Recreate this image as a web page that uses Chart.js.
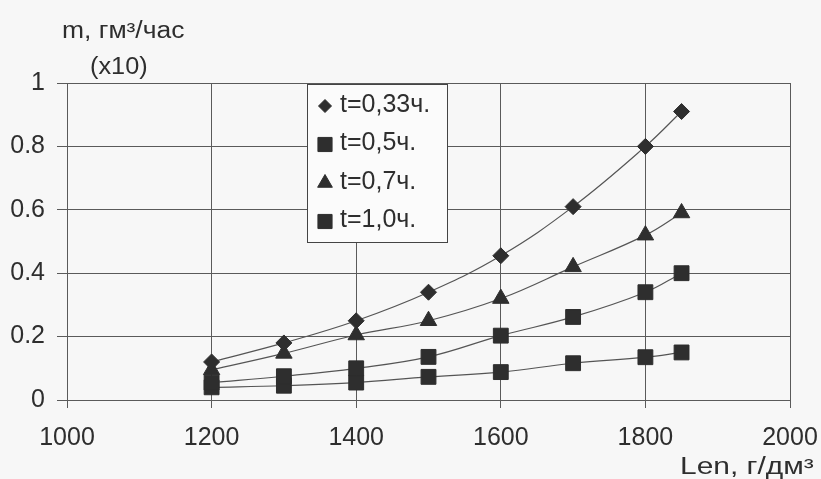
<!DOCTYPE html>
<html>
<head>
<meta charset="utf-8">
<script src="https://cdn.jsdelivr.net/npm/chart.js@4"></script>
<style>
  html, body { margin: 0; padding: 0; background: #f7f7f7; }
  #wrap { width: 821px; height: 479px; position: relative; }
</style>
</head>
<body>
<div id="wrap"><canvas id="chart" width="821" height="479"></canvas></div>
<script>
const lenValues = [1200, 1300, 1400, 1500, 1600, 1700, 1800, 1850];
const seriesT033 = [0.12, 0.18, 0.25, 0.34, 0.455, 0.61, 0.80, 0.91];
const seriesT05 = [0.055, 0.075, 0.10, 0.136, 0.203, 0.262, 0.34, 0.40];
const seriesT07 = [0.095, 0.147, 0.205, 0.25, 0.32, 0.42, 0.52, 0.59];
const seriesT10 = [0.04, 0.045, 0.055, 0.073, 0.088, 0.116, 0.135, 0.15];
const seriesLabels = ['t=0,33ч.', 't=0,5ч.', 't=0,7ч.', 't=1,0ч.'];
const yTitle = 'm, гм³/час';
const yTitle2 = '(x10)';
const xTitle = 'Len, г/дм³';

const ink = '#2e2e2e';
const gridColor = '#5a5a5a';
const fontFamily = '"Liberation Sans", Arial, sans-serif';

function makeSeries(values, label, style, radius) {
  return {
    label,
    data: values.map((v, i) => ({ x: lenValues[i], y: v })),
    showLine: true,
    tension: 0.4,
    borderColor: '#555',
    borderWidth: 1.2,
    pointStyle: style,
    pointRadius: radius,
    pointHoverRadius: radius,
    pointBackgroundColor: ink,
    pointBorderColor: ink,
    pointBorderWidth: 1
  };
}

const datasets = [
  makeSeries(seriesT033, seriesLabels[0], 'rectRot', 8),
  makeSeries(seriesT05, seriesLabels[1], 'rect', 10.5),
  makeSeries(seriesT07, seriesLabels[2], 'triangle', 9.5),
  makeSeries(seriesT10, seriesLabels[3], 'rect', 10.5)
];

const legendRadius = { rectRot: 6.5, triangle: 8.5, rect: 10 };

const boxLegend = {
  id: 'boxLegend',
  afterDraw(chart) {
    const ctx = chart.ctx;
    const left = 307, top = 84, w = 140, h = 158;
    ctx.save();
    ctx.fillStyle = '#fbfbfb';
    ctx.fillRect(left, top, w, h);
    ctx.strokeStyle = '#444';
    ctx.lineWidth = 1;
    ctx.strokeRect(left + 0.5, top + 0.5, w, h);
    ctx.font = '25px ' + fontFamily;
    ctx.textBaseline = 'middle';
    chart.data.datasets.forEach((ds, i) => {
      const cy = top + 21 + i * 38.5;
      ctx.fillStyle = ink;
      ctx.strokeStyle = ink;
      Chart.helpers.drawPoint(ctx, {
        pointStyle: ds.pointStyle,
        radius: legendRadius[ds.pointStyle],
        borderWidth: 1
      }, 325, cy + 1);
      ctx.fillStyle = ink;
      ctx.fillText(ds.label, 340, cy);
    });
    ctx.restore();
  }
};

function stretchedText(ctx, text, x, y, sx) {
  ctx.save();
  ctx.translate(x, y);
  ctx.scale(sx, 1);
  ctx.fillText(text, 0, 0);
  ctx.restore();
}

const axisTitles = {
  id: 'axisTitles',
  afterDraw(chart) {
    const ctx = chart.ctx;
    ctx.save();
    ctx.fillStyle = ink;
    ctx.font = '23px ' + fontFamily;
    ctx.textBaseline = 'alphabetic';
    ctx.textAlign = 'left';
    stretchedText(ctx, yTitle, 62, 38, 1.15);
    stretchedText(ctx, yTitle2, 90, 74, 1.1);
    stretchedText(ctx, xTitle, 680, 474, 1.3);
    ctx.restore();
  }
};

new Chart(document.getElementById('chart'), {
  type: 'scatter',
  data: { datasets },
  options: {
    responsive: false,
    animation: false,
    layout: { padding: { top: 83, right: 31, left: 0, bottom: 0 } },
    plugins: {
      legend: { display: false },
      tooltip: { enabled: false }
    },
    scales: {
      x: {
        type: 'linear',
        min: 1000,
        max: 2000,
        ticks: {
          stepSize: 200,
          color: ink,
          padding: 15,
          font: { size: 25, family: fontFamily },
          maxRotation: 0,
          callback: v => String(v)
        },
        grid: { color: gridColor, lineWidth: 1, tickLength: 8, drawOnChartArea: true },
        border: { color: gridColor, width: 1 },
        afterFit(scale) {
          scale.height = 79;
          scale.paddingLeft = 0;
          scale.paddingRight = 0;
        }
      },
      y: {
        min: 0,
        max: 1,
        ticks: {
          stepSize: 0.2,
          color: ink,
          padding: 12,
          font: { size: 25, family: fontFamily },
          callback: v => String(Math.round(v * 10) / 10)
        },
        grid: { color: gridColor, lineWidth: 1, tickLength: 10 },
        border: { color: gridColor, width: 1 },
        afterFit(scale) {
          scale.width = 67;
          scale.paddingTop = 0;
          scale.paddingBottom = 0;
        }
      }
    }
  },
  plugins: [boxLegend, axisTitles]
});
</script>
</body>
</html>
